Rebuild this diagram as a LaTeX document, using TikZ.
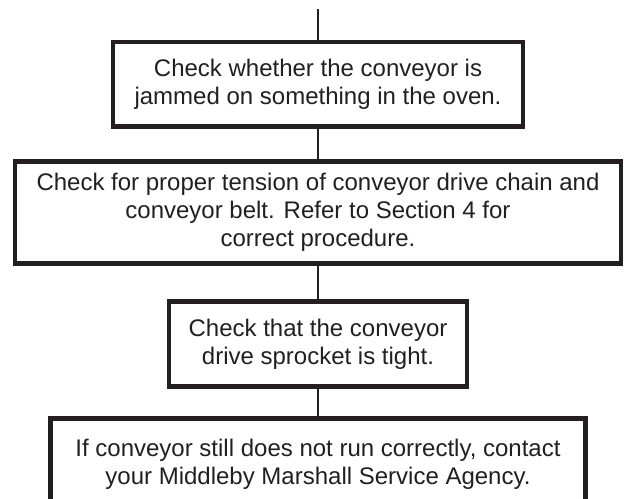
\documentclass[tikz,border=0pt]{standalone}
\usepackage{fontspec}
\setmainfont{Liberation Sans}
\definecolor{ink}{HTML}{231F20}
\begin{document}
\begin{tikzpicture}[x=1pt,y=-1pt,
        stepbox/.style={draw=ink, line width=4.5pt, inner sep=0pt, align=center,
            text=ink, font=\fontsize{24}{28}\selectfont},
        link/.style={draw=ink, line width=2.2pt}]
        \clip (0,0) rectangle (626,498);
        \coordinate (start) at (318,9);

        \node[stepbox, minimum width=410pt, minimum height=84.5pt] (jam) at (318,84)
            {Check whether the conveyor is\\jammed on something in the oven.};
        \node[stepbox, minimum width=606pt, minimum height=102pt] (tension) at (318,212.5)
            {Check for proper tension of conveyor drive chain and\\conveyor belt. Refer to Section 4 for\\correct procedure.};
        \node[stepbox, minimum width=298pt, minimum height=85pt] (sprocket) at (318,344)
            {Check that the conveyor\\drive sprocket is tight.};
        \node[stepbox, minimum width=535pt, minimum height=92pt] (agency) at (318,464.5)
            {If conveyor still does not run correctly, contact\\your Middleby Marshall Service Agency.};

        \draw[link] (start) -- (jam.north);
        \draw[link] (jam.south) -- (tension.north);
        \draw[link] (tension.south) -- (sprocket.north);
        \draw[link] (sprocket.south) -- (agency.north);
    \end{tikzpicture}
\end{document}
